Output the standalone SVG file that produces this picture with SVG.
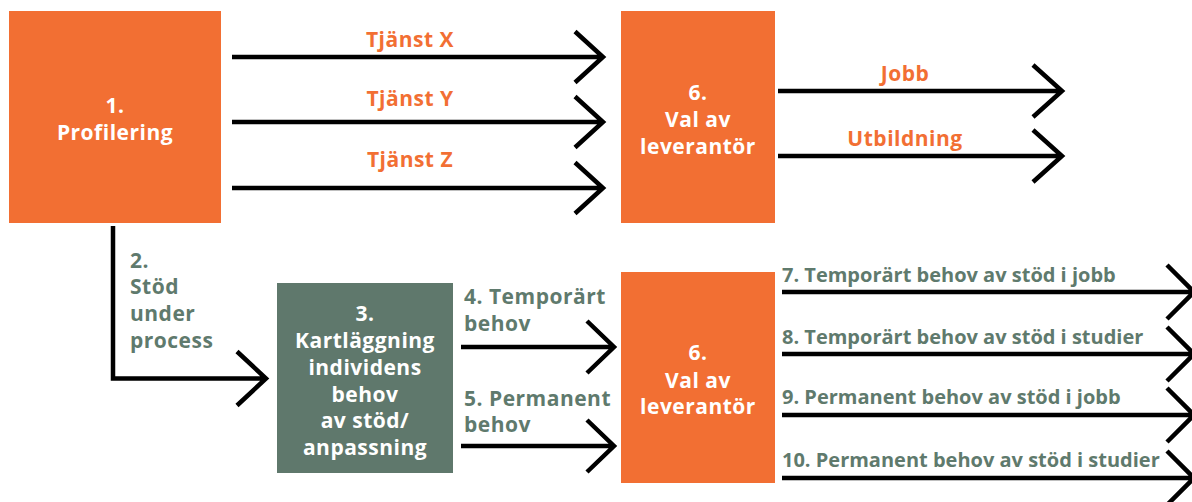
<svg xmlns="http://www.w3.org/2000/svg" width="1192" height="502" viewBox="0 0 1192 502">
<style>
.or{fill:#F26F33}
.gr{fill:#5F786C}
text{font-family:"Open Sans","Liberation Sans",sans-serif;font-weight:700;font-size:21px;letter-spacing:0.5px}
.long{font-size:20px;letter-spacing:0}
.w{fill:#FFFFFF}
.lo{fill:#F26F33}
.lg{fill:#5F7A6D}
.c{text-anchor:middle}
.ln{fill:none;stroke:#000;stroke-width:4.5;stroke-linejoin:miter;stroke-linecap:butt}
</style>
<rect width="1192" height="502" fill="#FFFFFF"/>
<g id="connectors">
<path class="ln" d="M232 57H603M575 31.5L603 57L575 82.5"/>
<path class="ln" d="M232 122H603M575 96.5L603 122L575 147.5"/>
<path class="ln" d="M232 188H603M575 162.5L603 188L575 213.5"/>
<path class="ln" d="M778 91H1062M1033 65L1062 91L1033 117"/>
<path class="ln" d="M778 156H1062M1033 130L1062 156L1033 182"/>
<path class="ln" d="M113 226V378.5H266M237 351.5L266 378.5L237 405.5"/>
<path class="ln" d="M461 347H614M587 321L614 347L587 373"/>
<path class="ln" d="M461 446H614M587 420L614 446L587 472"/>
<path class="ln" d="M782 292H1193M1167 265L1194 292L1167 319"/>
<path class="ln" d="M782 354H1193M1167 327L1194 354L1167 381"/>
<path class="ln" d="M782 415H1193M1167 388L1194 415L1167 442"/>
<path class="ln" d="M782 478H1193M1167 451L1194 478L1167 505"/>
<text class="lo c" x="410" y="47">Tjänst X</text>
<text class="lo c" x="410" y="106">Tjänst Y</text>
<text class="lo c" x="410" y="167">Tjänst Z</text>
<text class="lo c" x="905" y="81">Jobb</text>
<text class="lo c" x="905" y="146">Utbildning</text>
<text class="lg" x="130" y="268">2.</text>
<text class="lg" x="130" y="294">Stöd</text>
<text class="lg" x="130" y="321">under</text>
<text class="lg" x="130" y="348">process</text>
<text class="lg" x="464" y="304">4. Temporärt</text>
<text class="lg" x="464" y="331">behov</text>
<text class="lg" x="464" y="406">5. Permanent</text>
<text class="lg" x="464" y="432">behov</text>
<text class="lg long" x="782" y="282">7. Temporärt behov av stöd i jobb</text>
<text class="lg long" x="782" y="344">8. Temporärt behov av stöd i studier</text>
<text class="lg long" x="782" y="404">9. Permanent behov av stöd i jobb</text>
<text class="lg long" x="782" y="467">10. Permanent behov av stöd i studier</text>
</g>
<g id="node1">
<rect class="or" x="9" y="11" width="212" height="212"/>
<text class="w c" x="115" y="113">1.</text>
<text class="w c" x="115" y="140">Profilering</text>
</g>
<g id="node6a">
<rect class="or" x="621" y="11" width="154" height="212"/>
<text class="w c" x="698" y="100">6.</text>
<text class="w c" x="698" y="127">Val av</text>
<text class="w c" x="698" y="154">leverantör</text>
</g>
<g id="node3">
<rect class="gr" x="277" y="283" width="176" height="190"/>
<text class="w c" x="365" y="321">3.</text>
<text class="w c" x="365" y="348">Kartläggning</text>
<text class="w c" x="365" y="375">individens</text>
<text class="w c" x="365" y="402">behov</text>
<text class="w c" x="365" y="428">av stöd/</text>
<text class="w c" x="365" y="455">anpassning</text>
</g>
<g id="node6b">
<rect class="or" x="621" y="272" width="154" height="211"/>
<text class="w c" x="698" y="360">6.</text>
<text class="w c" x="698" y="388">Val av</text>
<text class="w c" x="698" y="414">leverantör</text>
</g>
</svg>
